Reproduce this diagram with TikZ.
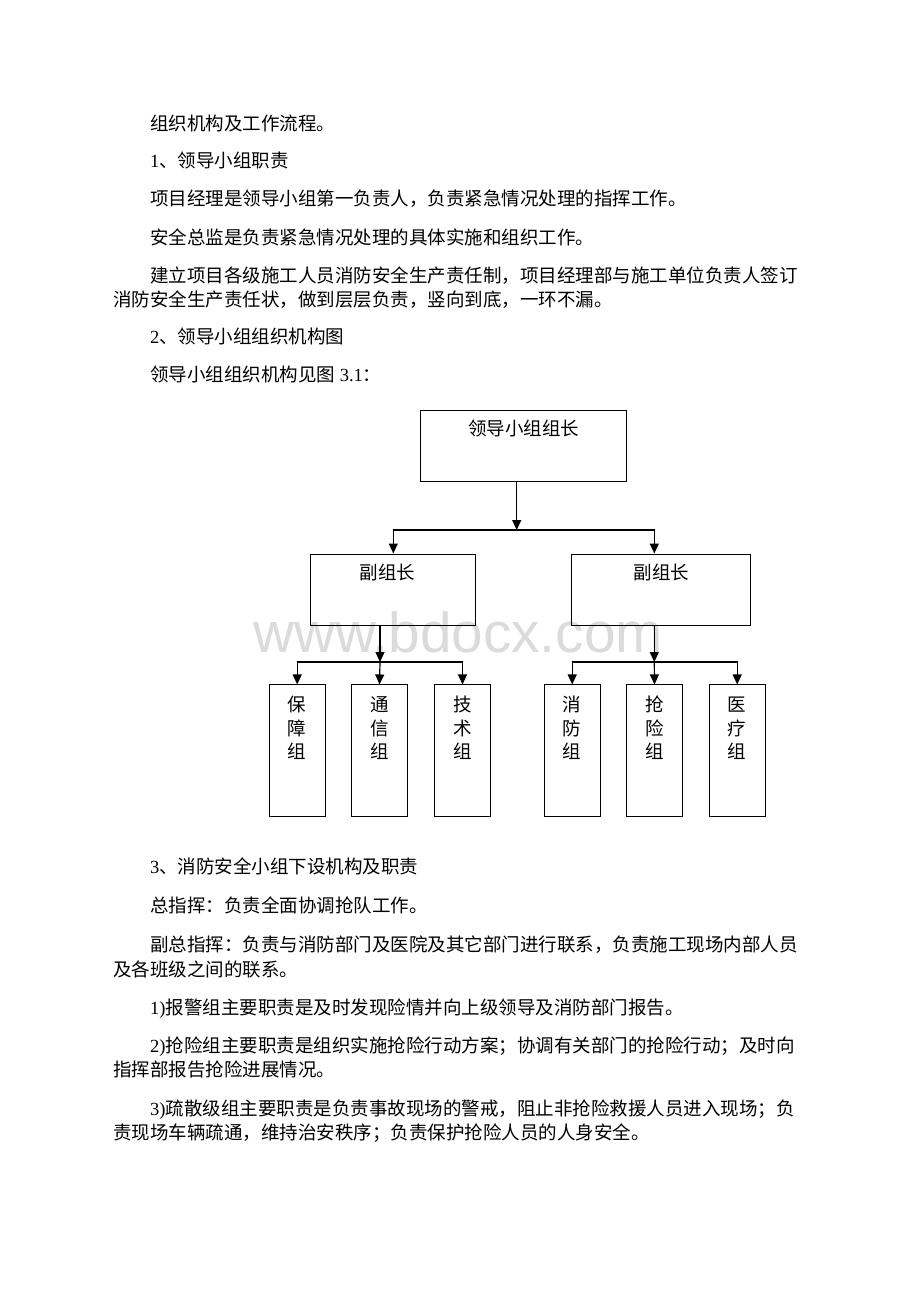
\documentclass[tikz,border=0pt]{standalone}
\usepackage{fontspec}
\setmainfont{Liberation Serif}
\newfontfamily\cjk{Noto Sans CJK SC}
\newfontfamily\wmfont{Liberation Sans}
\usetikzlibrary{arrows.meta}
\XeTeXlinebreaklocale "zh"
\XeTeXlinebreakskip=0pt plus 2pt
\newcommand\latn[1]{{\rmfamily #1}}
\newcommand\fullline[1]{\makebox[648pt][s]{#1}}
\begin{document}
\begin{tikzpicture}[x=1pt,y=-1pt,
  txt/.style={anchor=base west,inner sep=0,font={\cjk\fontsize{18.5}{23.5}\selectfont}},
  lbl/.style={anchor=base,inner sep=0,font={\cjk\fontsize{18.5}{23.5}\selectfont}},
  col/.style={anchor=north,inner sep=0,align=center,font={\cjk\fontsize{18.5}{23.5}\selectfont}},
  box/.style={draw,line width=1pt,inner sep=0},
  bigbox/.style={box,minimum height=71pt},
  smallbox/.style={box,minimum width=55.7pt,minimum height=131.7pt},
  arr/.style={line width=1.2pt,-{Triangle[width=9pt,length=10pt]}}]
\useasboundingbox[fill=white] (0,0) rectangle (920,1302);
\node[anchor=base west,inner sep=0,font={\wmfont\fontsize{56.7}{60}\selectfont},text=black!14] (wm) at (253,652) {www.bdocx.com};

\node[txt] (t1) at (150,130) {组织机构及工作流程。};
\node[txt] (t2) at (150,167) {\latn{1}、领导小组职责};
\node[txt] (t3) at (150,205) {项目经理是领导小组第一负责人，负责紧急情况处理的指挥工作。};
\node[txt] (t4) at (150,244) {安全总监是负责紧急情况处理的具体实施和组织工作。};
\node[txt] (t5a) at (150,282) {\fullline{建立项目各级施工人员消防安全生产责任制，项目经理部与施工单位负责人签订}};
\node[txt] (t5b) at (113,306) {消防安全生产责任状，做到层层负责，竖向到底，一环不漏。};
\node[txt] (t6) at (150,343) {\latn{2}、领导小组组织机构图};
\node[txt] (t7) at (150,381) {领导小组组织机构见图\latn{ 3.1}：};

\node[bigbox,minimum width=206pt] (lead) at (523.7,446.2) {};
\node[lbl] (leadt) at ([yshift=-25.3pt]lead.north) {领导小组组长};
\node[bigbox,minimum width=164.7pt] (subl) at (393.3,589.5) {};
\node[lbl] (sublt) at ([xshift=-6pt,yshift=-26pt]subl.north) {副组长};
\node[bigbox,minimum width=178.7pt] (subr) at (661.3,589.5) {};
\node[lbl] (subrt) at ([yshift=-26pt]subr.north) {副组长};

\node[smallbox] (bz) at (297.2,750.8) {};
\node[smallbox] (tx) at (379.5,750.8) {};
\node[smallbox] (js) at (462.5,750.8) {};
\node[smallbox] (xf) at (572.2,750.8) {};
\node[smallbox] (qx) at (654.5,750.8) {};
\node[smallbox] (yl) at (737.2,750.8) {};
\node[col] (bzt) at ([yshift=-10pt]bz.north) {\rule{0pt}{17pt}保\\障\\组};
\node[col] (txt) at ([yshift=-10pt]tx.north) {\rule{0pt}{17pt}通\\信\\组};
\node[col] (jst) at ([yshift=-10pt]js.north) {\rule{0pt}{17pt}技\\术\\组};
\node[col] (xft) at ([yshift=-10pt]xf.north) {\rule{0pt}{17pt}消\\防\\组};
\node[col] (qxt) at ([yshift=-10pt]qx.north) {\rule{0pt}{17pt}抢\\险\\组};
\node[col] (ylt) at ([yshift=-10pt]yl.north) {\rule{0pt}{17pt}医\\疗\\组};

\coordinate (j1) at (516.7,530);
\coordinate (j2) at (380,662);
\coordinate (j3) at (654.3,662);
\draw[arr] ([xshift=-7pt]lead.south) -- (j1);
\draw[arr] (j1) -| (subl.north);
\draw[arr] (j1) -| ([xshift=-7pt]subr.north);
\draw[arr] ([xshift=-13.3pt]subl.south) -- (j2);
\draw[arr] (j2) -| (bz.north);
\draw[arr] (j2) -- (tx.north);
\draw[arr] (j2) -| (js.north);
\draw[arr] ([xshift=-7pt]subr.south) -- (j3);
\draw[arr] (j3) -| (xf.north);
\draw[arr] (j3) -- (qx.north);
\draw[arr] (j3) -| (yl.north);

\node[txt] (t8) at (150,873) {\latn{3}、消防安全小组下设机构及职责};
\node[txt] (t9) at (150,912) {总指挥：负责全面协调抢队工作。};
\node[txt] (t10a) at (150,951) {\fullline{副总指挥：负责与消防部门及医院及其它部门进行联系，负责施工现场内部人员}};
\node[txt] (t10b) at (113,976) {及各班级之间的联系。};
\node[txt] (t11) at (150,1014) {\latn{1)}报警组主要职责是及时发现险情并向上级领导及消防部门报告。};
\node[txt] (t12a) at (150,1052) {\fullline{\latn{2)}抢险组主要职责是组织实施抢险行动方案；协调有关部门的抢险行动；及时向}};
\node[txt] (t12b) at (113,1076) {指挥部报告抢险进展情况。};
\node[txt] (t13a) at (150,1115) {\fullline{\latn{3)}疏散级组主要职责是负责事故现场的警戒，阻止非抢险救援人员进入现场；负}};
\node[txt] (t13b) at (113,1139) {责现场车辆疏通，维持治安秩序；负责保护抢险人员的人身安全。};
\end{tikzpicture}
\end{document}
